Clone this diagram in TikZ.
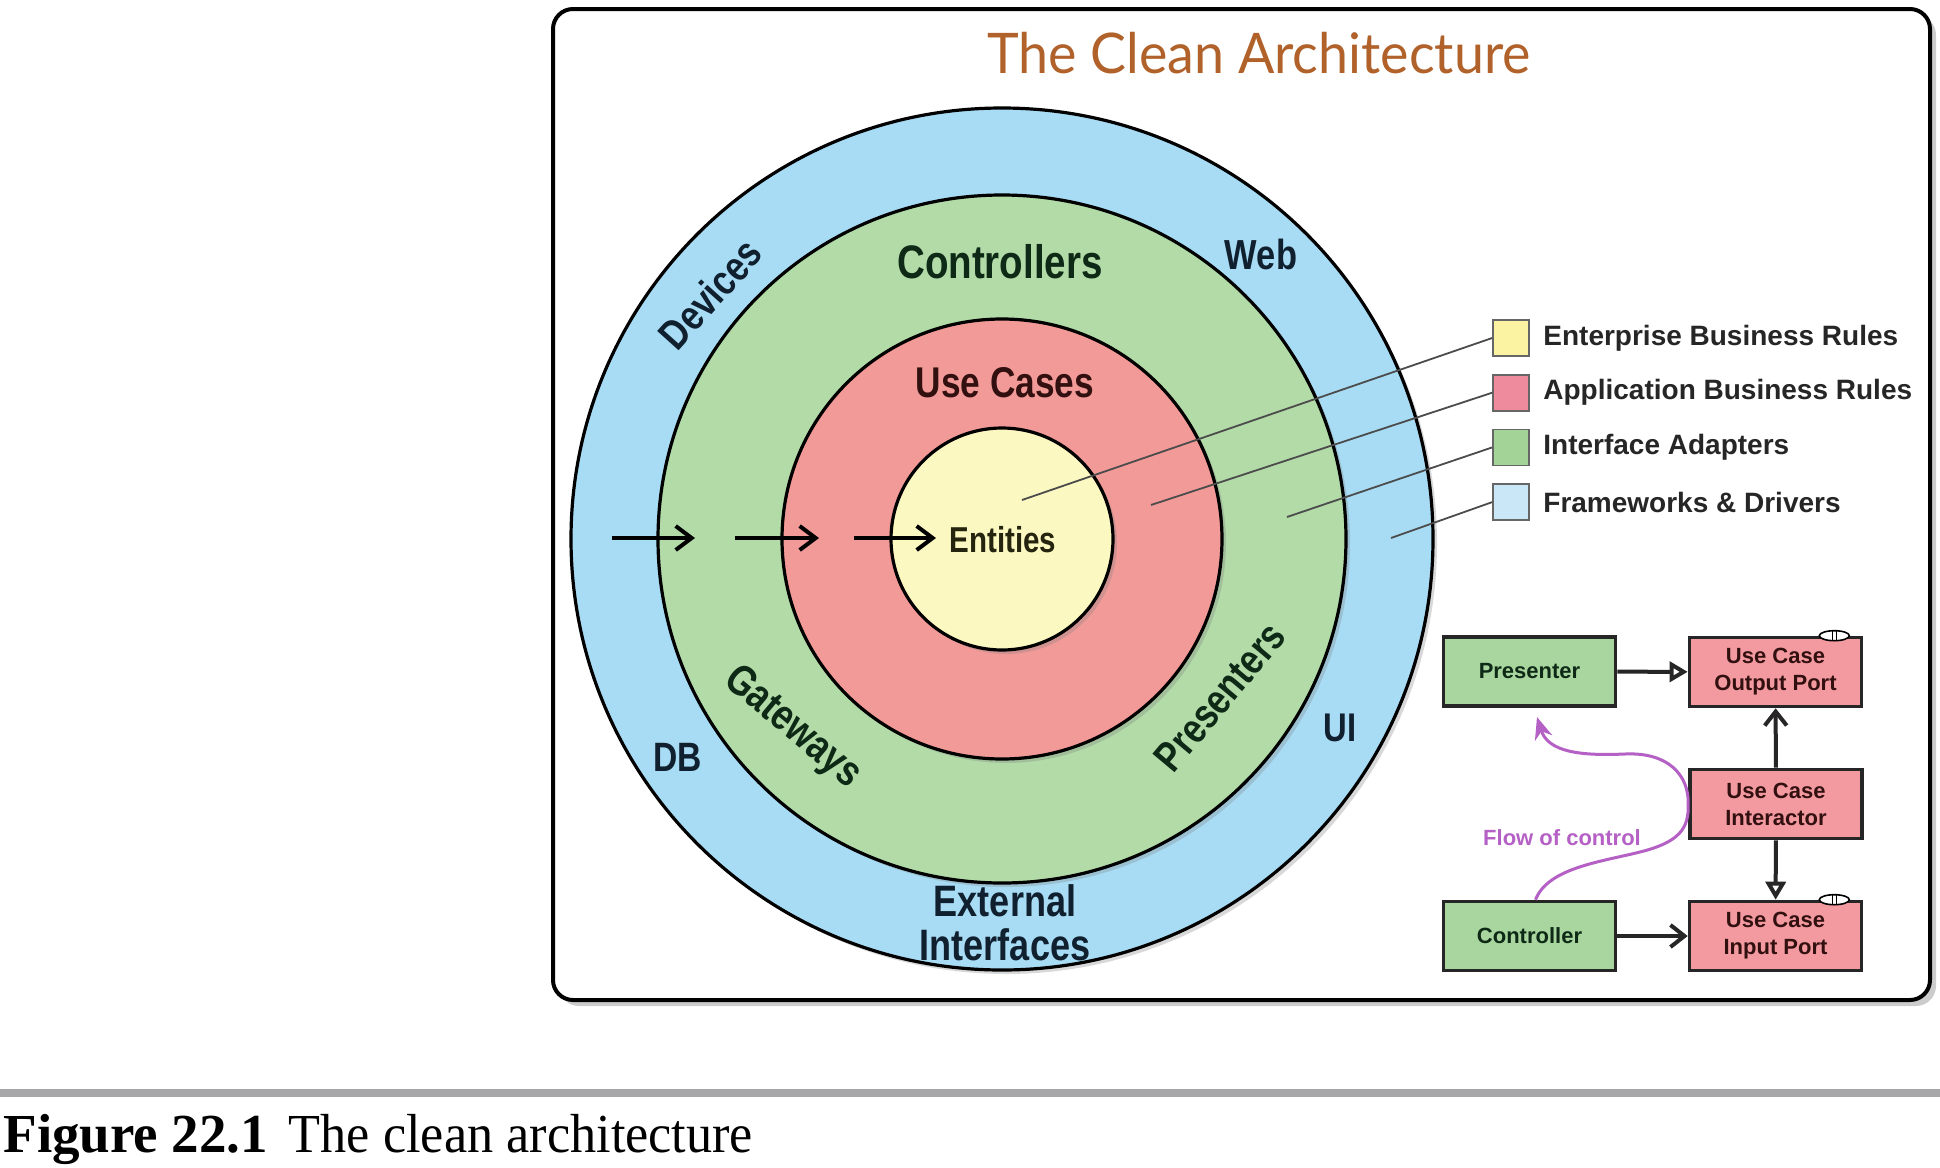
\documentclass[tikz,border=0pt]{standalone}
\usepackage{fontspec}
\setmainfont{Liberation Serif}
\setsansfont{Liberation Sans}
\newfontfamily\narrowsans[FakeStretch=0.82]{Liberation Sans}
\newfontfamily\narrowserif[FakeStretch=0.95]{Liberation Serif}
\newfontfamily\titlefont[FakeStretch=0.96]{Lato}
\usetikzlibrary{arrows.meta,shadows}

\definecolor{fwblue}{HTML}{A8DCF5}
\definecolor{adgreen}{HTML}{B2DBA8}
\definecolor{ucred}{HTML}{F29A98}
\definecolor{entyel}{HTML}{FCF8C2}
\definecolor{legyel}{HTML}{FBF3A2}
\definecolor{legred}{HTML}{EE8B9C}
\definecolor{leggreen}{HTML}{A3D397}
\definecolor{legblue}{HTML}{C9E7F7}
\definecolor{boxgreen}{HTML}{A9D69E}
\definecolor{boxred}{HTML}{F29AA0}
\definecolor{txtblue}{HTML}{10202F}
\definecolor{txtgreen}{HTML}{0E2A16}
\definecolor{txtred}{HTML}{331010}
\definecolor{txtdark}{HTML}{24240F}
\definecolor{titlebrown}{HTML}{B0622A}
\definecolor{flowpurple}{HTML}{B560C5}
\definecolor{bargray}{HTML}{A7A7AA}

\tikzset{
  ring/.style={draw=black, line width=1.6pt,
    drop shadow={shadow xshift=2pt, shadow yshift=-2pt, opacity=.3}},
  lbl/.style={font=\narrowsans\bfseries\fontsize{#1}{#1}\selectfont, inner sep=0pt},
  legbox/.style={draw=black!60, line width=.8pt, minimum size=18pt, inner sep=0pt},
  legtxt/.style={font=\sffamily\bfseries\fontsize{14}{16}\selectfont, text=black!85,
    anchor=west, inner sep=0pt},
  leader/.style={draw=black!70, line width=.9pt},
  inarrow/.style={line width=2pt, -{Straight Barb[length=8pt,width=12pt]}},
  ucbox/.style={draw=black!85, line width=1.8pt, minimum width=86pt, minimum height=34.5pt,
    align=center, inner sep=0pt, font=\sffamily\bfseries\fontsize{11}{13.5}\selectfont},
  greenbox/.style={ucbox, fill=boxgreen, text=txtgreen},
  redbox/.style={ucbox, fill=boxred, text=txtred},
  realize/.style={line width=2pt, draw=black!85, -{Triangle[open,length=9pt,width=10pt]}},
  uses/.style={line width=2pt, draw=black!85, -{Straight Barb[length=7pt,width=11pt]}},
  flow/.style={draw=flowpurple, line width=1.5pt, -{Stealth[length=11pt,width=9pt]}}
}

\begin{document}
\begin{tikzpicture}[x=0.5pt, y=-0.5pt]
  \useasboundingbox (0,0) rectangle (1940,1168);
  % frame and title
  \draw[line width=2pt, rounded corners=10pt, fill=white,
    drop shadow={shadow xshift=3pt, shadow yshift=-3pt, opacity=.4}] (553,9) rectangle (1930,1000);
  \node[font=\titlefont\fontsize{28}{30}\selectfont, text=titlebrown] (title) at (1259,53)
    {The Clean Architecture};

  % the four circles
  \coordinate (C) at (1002,539);
  \draw[ring, fill=fwblue] (C) circle (431);
  \draw[ring, fill=adgreen] (C) circle (344);
  \draw[ring, fill=ucred] (C) circle (220);
  \draw[ring, fill=entyel] (C) circle (111);

  \node[lbl=23.5, text=txtgreen] (ctrls) at (1000,262) {Controllers};
  \node[lbl=21.5, text=txtred] (ucs) at (1005,383) {Use Cases};
  \node[lbl=18, text=txtdark] (ent) at (1003,540) {Entities};
  \node[lbl=21, text=txtblue, rotate=48] (dev) at (710,294) {Devices};
  \node[lbl=21, text=txtblue] (web) at (1261,254) {Web};
  \node[lbl=20.5, text=txtblue] (db) at (678,757) {DB};
  \node[lbl=20, text=txtblue] (ui) at (1340,728) {UI};
  \node[lbl=21.5, text=txtgreen, rotate=-40] (gw) at (792,728) {Gateways};
  \node[lbl=21, text=txtgreen, rotate=50] (prs) at (1220,697) {Presenters};
  \node[lbl=22, text=txtblue, align=center] (ext) at (1005,923) {External\\Interfaces};

  % dependency arrows
  \foreach \a/\b [count=\i] in {612/695, 735/819, 854/936} {
    \coordinate (a\i) at (\a,538); \coordinate (b\i) at (\b,538);
    \draw[inarrow] (a\i) -- (b\i);
  }

  % legend
  \foreach \c/\t/\px/\py [count=\i] in {legyel/Enterprise Business Rules/1022/500,
      legred/Application Business Rules/1151/505, leggreen/Interface Adapters/1287/517,
      legblue/Frameworks \& Drivers/1391/538} {
    \node[legbox, fill=\c] (leg\i) at (1511,{338+54.7*(\i-1)}) {};
    \node[legtxt] (legt\i) at (1543,{338+54.7*(\i-1)}) {\t};
    \coordinate (p\i) at (\px,\py);
    \draw[leader] (leg\i.west) -- (p\i);
  }

  % flow of control inset
  \node[greenbox] (pres) at (1529.5,671.5) {Presenter};
  \node[redbox] (outp) at (1775.5,672) {Use Case\\Output Port};
  \node[redbox] (inter) at (1776,804) {Use Case\\Interactor};
  \node[greenbox] (ctrl) at (1529.5,936) {Controller};
  \node[redbox] (inp) at (1775.5,936) {Use Case\\Input Port};
  \foreach \n in {outp,inp} {
    \draw[fill=white, line width=.8pt] ([xshift=-14.5pt]\n.north east) ellipse [x radius=15, y radius=5];
    \draw[line width=.8pt] ([xshift=-15.5pt,yshift=2.5pt]\n.north east) -- ([xshift=-15.5pt,yshift=-2.5pt]\n.north east)
      ([xshift=-13.5pt,yshift=2.5pt]\n.north east) -- ([xshift=-13.5pt,yshift=-2.5pt]\n.north east);
  }
  \draw[realize] (pres) -- (outp);
  \draw[uses] (inter) -- (outp);
  \draw[realize] (inter) -- (inp);
  \draw[uses] (ctrl) -- (inp);
  \coordinate (tip) at (1537,717);
  \draw[flow] ([xshift=3pt]ctrl.north) .. controls (1548,868) and (1600,862) .. (1640,852)
    .. controls (1680,842) and (1689,828) .. (inter.west)
    .. controls (1689,775) and (1668,752) .. (1625,754)
    .. controls (1580,756) and (1548,752) .. (tip);
  \node[font=\sffamily\bfseries\fontsize{11}{13}\selectfont, text=flowpurple] (flowlbl) at (1562,838)
    {Flow of control};

  % caption
  \fill[bargray] (0,1089) rectangle (1940,1097);
  \node[anchor=base west, inner sep=0pt, font=\fontsize{27.5}{30}\selectfont] (cap) at (3,1152)
    {\textbf{Figure 22.1}\hspace{3.5pt} {\narrowserif The clean architecture}};
\end{tikzpicture}
\end{document}
